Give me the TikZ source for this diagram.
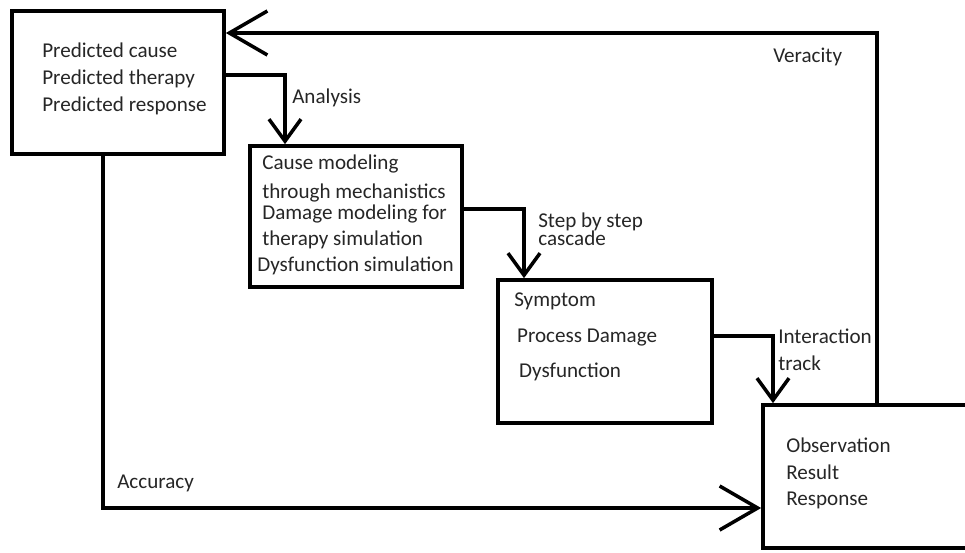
\documentclass[tikz,border=0pt]{standalone}
\usepackage{fontspec}
\setmainfont{Carlito}
\usetikzlibrary{positioning,arrows.meta}

\begin{document}
\begin{tikzpicture}[
x=0.025cm,
y=-0.025cm,
box/.style={
draw,
line width=2.6pt,
inner sep=0pt,
minimum height=3.575cm
},
txt/.style={
anchor=west,
align=left,
inner sep=0pt,
text=black!85,
font=\fontsize{15}{19}\selectfont
},
arrow/.style={
-{Straight Barb[length=0.55cm,width=0.8cm]},
line width=2.5pt
},
bigarrow/.style={
-{Straight Barb[length=0.95cm,width=1.1cm]},
line width=2.5pt
}
]

\useasboundingbox (0,0) rectangle (965,552);


% Prediction
\node[box,minimum width=5.3cm] (pred) at (118,82.5) {};
\node[txt] (predtxt) at (42,79)
{
Predicted cause\\
Predicted therapy\\
Predicted response
};


% Modeling
\node[box,minimum width=5.3cm,minimum height=3.525cm] (mech) at (356,216.5) {};
\node[txt,font=\fontsize{15}{18.5}\selectfont] (mechtxt) at (262,215)
{
Cause modeling\\[2pt]
through mechanistics\\[-3pt]
Damage modeling for\\
therapy simulation\\
\hspace*{-3.5pt}Dysfunction simulation
};


% Symptom
\node[box,minimum width=5.35cm] (sym) at (605,351.5) {};
\node[txt,font=\fontsize{15}{25}\selectfont] (symtxt) at (514,337)
{
Symptom\\
\hspace*{2pt}Process Damage\\
\hspace*{3.5pt}Dysfunction
};


% Observation
\node[box,minimum width=5.675cm] (obs) at (876.5,476.5) {};
\node[txt] (obstxt) at (786,473.5)
{
Observation\\
Result\\
Response
};


% labels
\node[txt] (analysis) at (292,98) {Analysis};
\node[txt] (cascade) at (538,229) {Step by step\\[-6pt]cascade};
\node[txt] (interaction) at (778,350) {Interaction\\track};
\node[txt] (veracity) at (773,57) {Veracity};
\node[txt] (accuracy) at (117,483) {Accuracy};


% arrows
\coordinate (abend) at (285,75);
\coordinate (sbend) at (524,209);
\coordinate (ibend) at (773,336);
\coordinate (vtop) at (877,33);
\coordinate (abot) at (103,508);

\draw[arrow] (abend -| pred.east) -| (mech.north -| abend);
\draw[arrow] (sbend -| mech.east) -| (sym.north -| sbend);
\draw[arrow] (ibend -| sym.east) -| (obs.north -| ibend);
\draw[bigarrow] (obs.north -| vtop) -- (vtop) -- (vtop -| pred.east);
\draw[bigarrow] (pred.south -| abot) |- (obs.west |- abot);


\end{tikzpicture}
\end{document}
